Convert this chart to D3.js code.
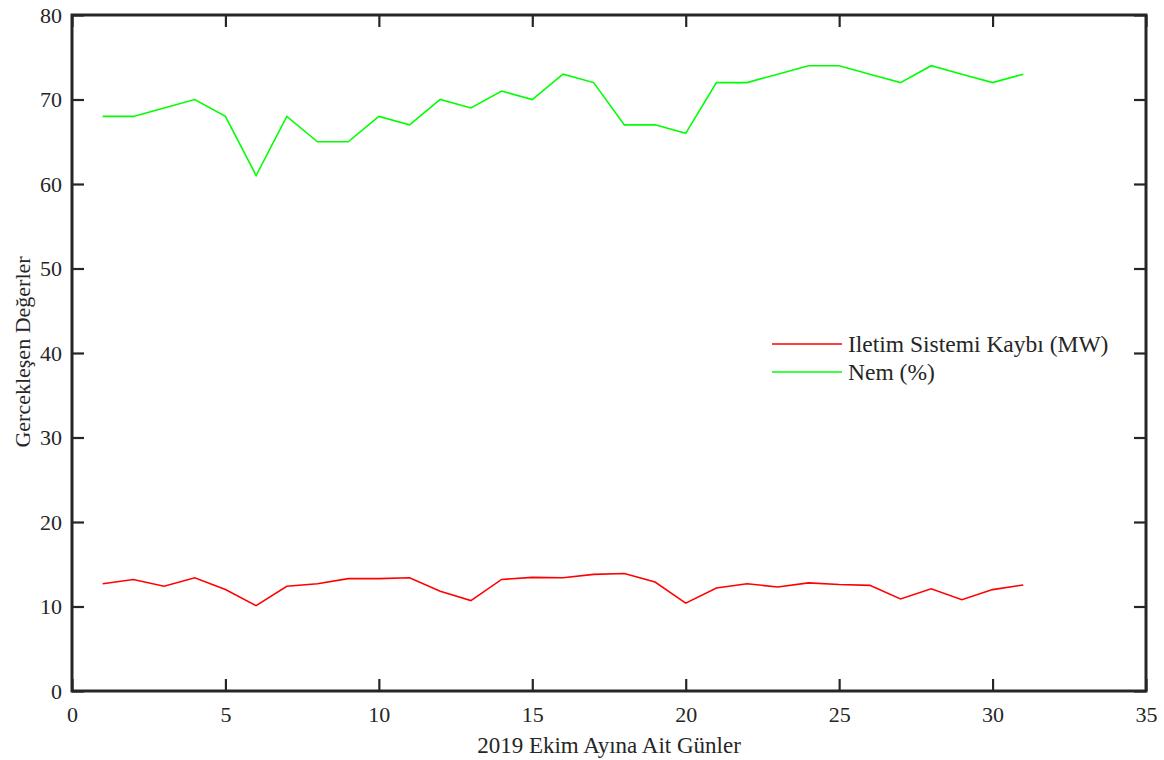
<!DOCTYPE html>
<html>
<head>
<meta charset="utf-8">
<script src="https://cdn.jsdelivr.net/npm/d3@7"></script>
<style>
  body { margin: 0; background: #fff; }
  svg text { font-family: "Liberation Serif", "Times New Roman", serif; fill: #262626; }
</style>
</head>
<body>
<div class="chart"></div>
<script>
const days = d3.range(1, 32);
const loss = [12.7, 13.2, 12.4, 13.4, 12.0, 10.1, 12.4, 12.7, 13.3, 13.3, 13.4, 11.8, 10.7, 13.2, 13.45, 13.4,
  13.8, 13.9, 12.9, 10.4, 12.2, 12.7, 12.3, 12.8, 12.6, 12.5, 10.9, 12.1, 10.8, 12.0, 12.55];
const humidity = [68, 68, 69, 70, 68, 61, 68, 65, 65, 68, 67, 70, 69, 71, 70, 73,
  72, 67, 67, 66, 72, 72, 73, 74, 74, 73, 72, 74, 73, 72, 73];
const xTicks = [0, 5, 10, 15, 20, 25, 30, 35];
const yTicks = [0, 10, 20, 30, 40, 50, 60, 70, 80];
const seriesNames = ["Iletim Sistemi Kaybı (MW)", "Nem (%)"];
const seriesColors = ["#ff0000", "#00ff00"];

const W = 1164, H = 760;
const margin = { top: 15, right: 18, bottom: 69, left: 72 };
const width = W - margin.left - margin.right;
const height = H - margin.top - margin.bottom;

const svg = d3.select(".chart").append("svg")
  .attr("width", W).attr("height", H);
const g = svg.append("g")
  .attr("transform", "translate(" + margin.left + "," + margin.top + ")");

const x = d3.scaleLinear().domain([0, 35]).range([0, width]);
const y = d3.scaleLinear().domain([0, 80]).range([height, 0]);

const line = d3.line().x((d) => x(d[0])).y((d) => y(d[1]));

[loss, humidity].forEach(function (vals, i) {
  g.append("path")
    .datum(days.map((d, j) => [d, vals[j]]))
    .attr("d", line)
    .attr("fill", "none")
    .attr("stroke", seriesColors[i])
    .attr("stroke-width", 1.6);
});

// axes with inward ticks, box style
const tickLen = 12;
const xAxis = g.append("g").attr("transform", "translate(0," + height + ")")
  .call(d3.axisBottom(x).tickValues(xTicks).tickSizeInner(-tickLen).tickSizeOuter(0).tickPadding(15));
const yAxis = g.append("g")
  .call(d3.axisLeft(y).tickValues(yTicks).tickSizeInner(-tickLen).tickSizeOuter(0).tickPadding(10));
const xTop = g.append("g")
  .call(d3.axisTop(x).tickValues(xTicks).tickSizeInner(-tickLen).tickSizeOuter(0).tickFormat(""));
const yRight = g.append("g").attr("transform", "translate(" + width + ",0)")
  .call(d3.axisRight(y).tickValues(yTicks).tickSizeInner(-tickLen).tickSizeOuter(0).tickFormat(""));

[xAxis, yAxis, xTop, yRight].forEach(function (a) {
  a.select(".domain").remove();
  a.selectAll(".tick line").attr("stroke", "#262626").attr("stroke-width", 2.2);
  a.selectAll(".tick text").style("font-size", "22px").attr("fill", "#262626");
});

g.append("rect")
  .attr("width", width).attr("height", height)
  .attr("fill", "none").attr("stroke", "#262626").attr("stroke-width", 3);

// axis titles
g.append("text")
  .attr("x", width / 2).attr("y", height + 62)
  .attr("text-anchor", "middle").style("font-size", "23px")
  .text("2019 Ekim Ayına Ait Günler");
g.append("text")
  .attr("transform", "rotate(-90)")
  .attr("x", -(height / 2) + 1).attr("y", -42)
  .attr("text-anchor", "middle").style("font-size", "22px")
  .text("Gercekleşen Değerler");

// legend
const legend = g.append("g").attr("transform", "translate(" + (772 - margin.left) + "," + (344 - margin.top) + ")");
seriesNames.forEach(function (name, i) {
  const row = legend.append("g").attr("transform", "translate(0," + i * 28 + ")");
  row.append("line").attr("x1", 0).attr("x2", 70)
    .attr("stroke", seriesColors[i]).attr("stroke-width", 1.6);
  row.append("text").attr("x", 76).attr("y", 8)
    .style("font-size", "23.5px").text(name);
});
</script>
</body>
</html>
